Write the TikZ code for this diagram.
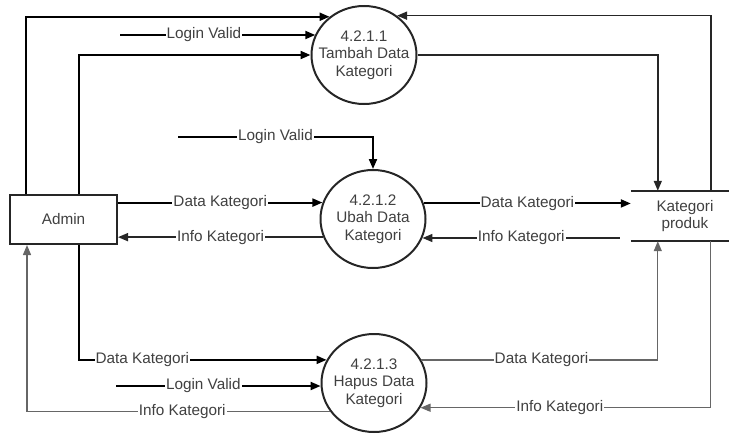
\documentclass[tikz,border=0pt]{standalone}
\usepackage{fontspec}
\setmainfont{Liberation Sans}
\usetikzlibrary{shapes.geometric,arrows.meta}
\tikzset{
  proc/.style={ellipse, draw=black!85, line width=2pt, minimum width=105pt,
    minimum height=98pt, inner sep=0pt},
  ptext/.style={align=center, text=black!75},
  tip/.style={-{Triangle[length=10pt,width=8pt]}},
  flowA/.style={tip, line width=2pt, draw=black},
  flowB/.style={tip, line width=1.6pt, draw=black!85},
  flowC/.style={tip, line width=1.3pt, draw=black!60},
  lbl/.style={fill=white, inner sep=1pt, text=black!75},
  entity/.style={draw=black!85, line width=2pt, minimum width=107pt,
    minimum height=49pt, inner sep=0pt, text=black!75},
  storeline/.style={line width=2pt, draw=black!85},
}
\begin{document}
\begin{tikzpicture}[x=1pt, y=-1pt, font=\fontsize{15.3}{17.5}\selectfont]
\useasboundingbox (0,0) rectangle (729,434);

% processes
\node[proc, label={[ptext]center:{4.2.1.1\\Tambah Data\\Kategori}}] (p1) at (364,55) {};
\node[proc, label={[ptext]center:{4.2.1.2\\Ubah Data\\Kategori}}] (p2) at (373,219) {};
\node[proc, label={[ptext]center:{4.2.1.3\\Hapus Data\\Kategori}}] (p3) at (374,383) {};

% external entity
\node[entity] (admin) at (63.5,219.5) {Admin};

% data store
\node[minimum width=98pt, minimum height=50pt, inner sep=0pt,
  label={[ptext, xshift=5pt]center:{Kategori\\produk}}] (store) at (680,216) {};
\draw[storeline] (store.north west) -- (store.north east);
\draw[storeline] (store.south west) -- (store.south east);

% free ends of the login flows
\coordinate (lv1) at (120,35);
\coordinate (lv2) at (178,137);
\coordinate (lv3) at (116,386);
\coordinate (sin) at ([xshift=-11pt]store.west);

% flows of process 4.2.1.1
\draw[flowA] ([xshift=17pt]admin.north west) |- (p1.132.9);
\draw[flowA] (lv1) -- (lv1 -| p1.157.3) node[lbl, pos=0.43] {Login Valid};
\draw[flowA] ([xshift=70pt]admin.north west) |- (p1.west);
\draw[flowB] (p1.east) -| ([xshift=27pt]store.north west);
\draw[flowB] ([xshift=80pt]store.north west) |- (p1.50.8);

% flows of process 4.2.1.2
\draw[flowA] (lv2) -| (p2.north) node[lbl, pos=0.25] {Login Valid};
\draw[flowA] (p2.162.1 -| admin.east) -- (p2.162.1) node[lbl, midway] {Data Kategori};
\draw[flowB] (p2.200.2) -- (p2.200.2 -| admin.east) node[lbl, midway] {Info Kategori};
\draw[flowA] (p2.17.9) -- (p2.17.9 -| store.west) node[lbl, midway] {Data Kategori};
\draw[flowB] (p2.339.8 -| sin) -- (p2.339.8) node[lbl, midway] {Info Kategori};

% flows of process 4.2.1.3
\draw[flowA] ([xshift=70pt]admin.south west) |- (p3.154.9) node[lbl, pos=0.628] {Data Kategori};
\draw[flowA] (lv3) -- (lv3 -| p3.183.3) node[lbl, pos=0.427] {Login Valid};
\draw[flowC] (p3.213) -| ([xshift=18pt]admin.south west) node[lbl, pos=0.244] {Info Kategori};
\draw[flowC] (p3.26.4) -| ([xshift=27pt]store.south west) node[lbl, pos=0.254] {Data Kategori};
\draw[flowC] ([xshift=80pt]store.south west) |- (p3.332.3) node[lbl, pos=0.76] {Info Kategori};
\end{tikzpicture}
\end{document}
